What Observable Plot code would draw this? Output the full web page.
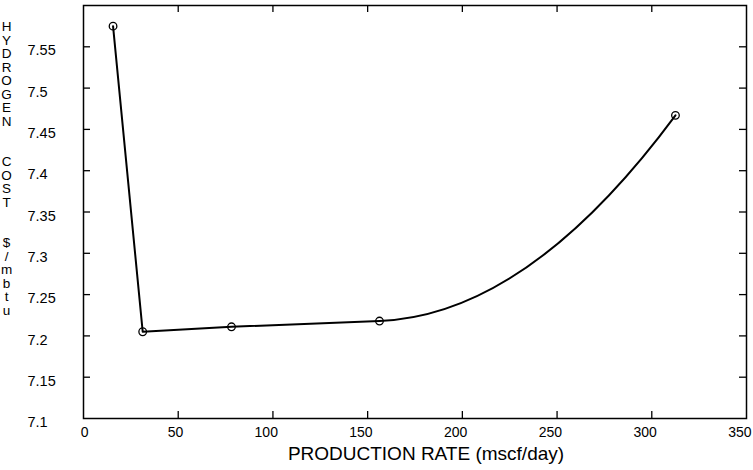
<!DOCTYPE html>
<html><head><meta charset="utf-8">
<script src="https://cdn.jsdelivr.net/npm/d3@7"></script>
<script src="https://cdn.jsdelivr.net/npm/@observablehq/plot@0.6"></script>
<style>
body{margin:0;background:#fff}
g[aria-label="x-title"] text{letter-spacing:0.5px}
</style>
</head><body><div id="chart"></div>
<script>
// Data
const rate = [15.6, 31.25, 78.125, 156.25, 312.5];      // mscf/day
const cost = [7.575, 7.205, 7.211, 7.218, 7.467];        // $/mbtu
const xTicks = [0, 50, 100, 150, 200, 250, 300, 350];
const xTickLabels = ["0", "50", "100", "150", "200", "250", "300", "350"];
const yTicks = [7.1, 7.15, 7.2, 7.25, 7.3, 7.35, 7.4, 7.45, 7.5, 7.55];
const yTickLabels = ["7.1", "7.15", "7.2", "7.25", "7.3", "7.35", "7.4", "7.45", "7.5", "7.55"];
const xTitle = "PRODUCTION RATE (mscf/day)";
const yTitle = "HYDROGEN  COST  $/mbtu";

const points = rate.map((r, i) => ({rate: r, cost: cost[i]}));

// line style: straight segments, last segment a smooth tangent-continuous quadratic
function tangentQuad(context) {
  let pts;
  return {
    areaStart() {}, areaEnd() {},
    lineStart() { pts = []; },
    point(x, y) { pts.push([+x, +y]); },
    lineEnd() {
      const n = pts.length;
      if (!n) return;
      context.moveTo(pts[0][0], pts[0][1]);
      for (let i = 1; i < n - 1; i++) context.lineTo(pts[i][0], pts[i][1]);
      if (n >= 3) {
        const a = pts[n - 3], b = pts[n - 2], c = pts[n - 1];
        const m = (b[1] - a[1]) / (b[0] - a[0]);
        const cx = (b[0] + c[0]) / 2;
        context.quadraticCurveTo(cx, b[1] + m * (cx - b[0]), c[0], c[1]);
      } else if (n === 2) context.lineTo(pts[1][0], pts[1][1]);
    }
  };
}

const W = 753, H = 470, mT = 5, mB = 52, mL = 83, mR = 7;
const plotH = H - mT - mB, plotW = W - mL - mR, tk = 7;
const font = "'Liberation Sans', Arial, sans-serif";

const chart = Plot.plot({
  width: W, height: H,
  marginTop: mT, marginBottom: mB, marginLeft: mL, marginRight: mR,
  style: {background: "#fff", fontFamily: font, color: "#000"},
  x: {domain: [0, 350], axis: null},
  y: {domain: [7.1, 7.6], axis: null},
  marks: [
    Plot.frame({stroke: "#000", strokeWidth: 1.5}),
    // inward ticks on all four sides
    Plot.ruleX(xTicks.slice(1, -1), {x: d => d, insetTop: plotH - tk, stroke: "#000", strokeWidth: 1.3}),
    Plot.ruleX(xTicks.slice(1, -1), {x: d => d, insetBottom: plotH - tk, stroke: "#000", strokeWidth: 1.3}),
    Plot.ruleY(yTicks.slice(1), {y: d => d, insetRight: plotW - tk, stroke: "#000", strokeWidth: 1.3}),
    Plot.ruleY(yTicks.slice(1), {y: d => d, insetLeft: plotW - tk, stroke: "#000", strokeWidth: 1.3}),
    // tick labels
    Plot.text(xTicks, {x: d => d, text: (d, i) => xTickLabels[i], frameAnchor: "bottom", lineAnchor: "top", textAnchor: "end", dx: 5, dy: 9, fontSize: 14, fill: "#000"}),
    Plot.text(yTicks, {y: d => d, text: (d, i) => yTickLabels[i], frameAnchor: "left", textAnchor: "start", dx: -56, dy: 4, fontSize: 14.5, fill: "#000"}),
    // titles
    Plot.text([xTitle], {text: d => d, frameAnchor: "bottom", lineAnchor: "top", dy: 27.5, dx: 11, fontSize: 19, fill: "#000", ariaLabel: "x-title"}),
    Plot.text([yTitle.split("").join("\n")], {text: d => d, frameAnchor: "top-left", textAnchor: "middle", lineAnchor: "top", dx: -77, dy: 16, fontSize: 13.5, lineHeight: 1.0, fill: "#000"}),
    // data
    Plot.line(points, {x: "rate", y: "cost", stroke: "#000", strokeWidth: 2, curve: tangentQuad}),
    Plot.dot(points, {x: "rate", y: "cost", r: 3.8, stroke: "#000", strokeWidth: 1.3, fill: "none"})
  ]
});
document.getElementById("chart").append(chart);
</script>
</body></html>
